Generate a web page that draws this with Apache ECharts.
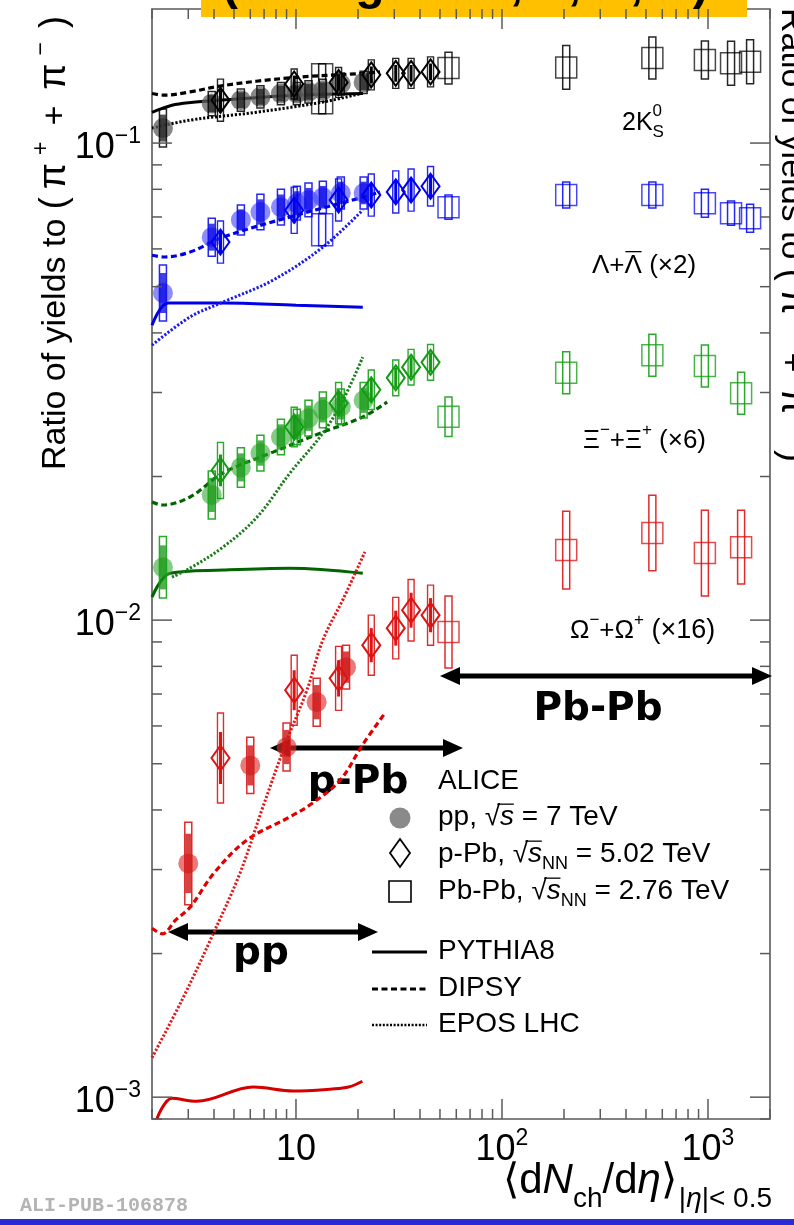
<!DOCTYPE html>
<html>
<head>
<meta charset="utf-8">
<script src="https://cdn.jsdelivr.net/npm/echarts/dist/echarts.min.js"></script>
<style>
  html, body { margin: 0; padding: 0; background: #fff; }
  #chart { width: 794px; height: 1225px; }
</style>
</head>
<body>
<div id="chart"></div>
<script>
// ---------------- data ----------------
// <dNch/deta> of the multiplicity / centrality classes
const ppMult      = [2.26, 3.90, 5.40, 6.72, 8.45, 10.1, 11.5, 13.5, 16.5, 21.3];
const ppMultOmega = [3.0, 6.0, 9.0, 12.6, 17.5];
const pPbMult     = [4.3, 9.8, 16.1, 23.2, 30.5, 36.2, 45.0];
const PbPbMult    = [13.4, 55, 205, 537, 966, 1294, 1601];
const PbPbMultMS  = [55, 205, 537, 966, 1448];

// 2K0S / (pi+ + pi-)
const k0sPP        = [0.1075, 0.121, 0.123, 0.125, 0.127, 0.127, 0.128, 0.129, 0.133, 0.134];
const k0sPPSys     = [0.096, 0.06, 0.055, 0.055, 0.055, 0.055, 0.055, 0.055, 0.055, 0.055];
const k0sPPb       = [0.123, 0.133, 0.134, 0.139, 0.140, 0.140, 0.141];
const k0sPPbSys    = [0.107, 0.075, 0.075, 0.075, 0.075, 0.075, 0.075];
const k0sPbPb      = [0.130, 0.1436, 0.1441, 0.1508, 0.1493, 0.147, 0.148];
const k0sPbPbSys   = [0.128, 0.08, 0.112, 0.107, 0.096, 0.112, 0.112];
const k0sPbPbBox   = [0.128, 0, 0, 0, 0, 0, 0];

// (Lambda + anti-Lambda) / (pi+ + pi-), x2
const lamPP        = [0.0485, 0.0635, 0.0690, 0.0717, 0.0734, 0.0748, 0.0760, 0.0770, 0.0786, 0.0786];
const lamPPSys     = [0.145, 0.096, 0.075, 0.09, 0.09, 0.085, 0.085, 0.08, 0.08, 0.08];
const lamPPb       = [0.0620, 0.0723, 0.0760, 0.0778, 0.0790, 0.0797, 0.0812];
const lamPPbSys    = [0.107, 0.118, 0.107, 0.107, 0.107, 0.107, 0.10];
const lamPbPb      = [0.0658, 0.0734, 0.0778, 0.0778, 0.0748, 0.0713, 0.0696];
const lamPbPbSys   = [0.08, 0.06, 0.065, 0.065, 0.07, 0.06, 0.07];
const lamPbPbBox   = [0.08, 0, 0, 0, 0, 0, 0];

// (Xi- + Xi+) / (pi+ + pi-), x6
const xiPP         = [0.0129, 0.0183, 0.0209, 0.0224, 0.0242, 0.0254, 0.0265, 0.0276, 0.0280, 0.0289];
const xiPPSys      = [0.16, 0.123, 0.10, 0.09, 0.09, 0.09, 0.09, 0.09, 0.09, 0.09];
const xiPPb        = [0.0206, 0.0254, 0.0285, 0.0304, 0.0322, 0.0339, 0.0347];
const xiPPbSys     = [0.145, 0.10, 0.105, 0.10, 0.09, 0.09, 0.09];
const xiPbPb       = [0.0267, 0.0330, 0.0359, 0.0341, 0.0299];
const xiPbPbSys    = [0.10, 0.107, 0.107, 0.107, 0.107];
const xiPbPbBox    = [0, 0, 0, 0, 0];

// (Omega- + Omega+) / (pi+ + pi-), x16
const omPP         = [0.00309, 0.00496, 0.00542, 0.00673, 0.00797];
const omPPSys      = [0.22, 0.145, 0.123, 0.123, 0.112];
const omPPb        = [0.00514, 0.00713, 0.00755, 0.00886, 0.00962, 0.01049, 0.01024];
const omPPbSys     = [0.243, 0.184, 0.167, 0.156, 0.16, 0.16, 0.156];
const omPbPb       = [0.00944, 0.01402, 0.01522, 0.01382, 0.01422];
const omPbPbSys    = [0.19, 0.207, 0.20, 0.23, 0.195];
const omPbPbBox    = [0, 0, 0, 0, 0];

// model curves for pp, [dNch/deta, ratio]
const k0sPythia = [[2.0, 0.116], [2.5, 0.120], [3.0, 0.1215], [5.0, 0.1236], [10, 0.126], [21.1, 0.127]];
const k0sDipsy  = [[2.0, 0.127], [2.3, 0.126], [3.06, 0.128], [4.42, 0.132], [9.35, 0.137], [21.1, 0.140], [25.6, 0.141]];
const k0sEpos   = [[2.0, 0.1075], [3.06, 0.1117], [6.47, 0.1161], [13.5, 0.1219], [21.1, 0.1273]];

const lamPythia = [[2.0, 0.0415], [2.4, 0.0462], [4.4, 0.0462], [10, 0.0457], [21.1, 0.0453]];
const lamDipsy  = [[2.0, 0.0582], [2.3, 0.0577], [3.06, 0.0591], [4.42, 0.0635], [9.35, 0.0700], [21.1, 0.0770], [25.6, 0.0790]];
const lamEpos   = [[2.0, 0.0377], [3.06, 0.0432], [4.42, 0.0464], [7.73, 0.0516], [13.5, 0.0605], [21.1, 0.0724]];

const xiPythia  = [[2.0, 0.01117], [2.45, 0.01254], [4.42, 0.01273], [9.35, 0.01285], [21.1, 0.01254]];
const xiDipsy   = [[2.0, 0.01768], [2.25, 0.01743], [3.06, 0.01812], [4.42, 0.02034], [7.73, 0.0225], [13.5, 0.02477], [21.1, 0.02666], [27.7, 0.02864]];
const xiEpos    = [[2.5, 0.01231], [3.06, 0.01285], [4.42, 0.01422], [6.47, 0.01644], [9.35, 0.02034], [13.5, 0.02465], [16.9, 0.02891], [21.1, 0.03558]];

const omPythia  = [[2.11, 0.0009], [2.5, 0.000995], [3.3, 0.00098], [6.2, 0.00105], [9.7, 0.00103], [15, 0.00104], [18, 0.00105], [21, 0.00108]];
const omDipsy   = [[2.0, 0.00226], [2.25, 0.00220], [2.6, 0.00235], [3.06, 0.0025], [4.0, 0.00295], [5.78, 0.00346], [9.35, 0.00387], [12, 0.00413], [16.4, 0.00462], [21, 0.00547], [27, 0.00638]];
const omEpos    = [[2.0, 0.00121], [2.8, 0.0016], [3.83, 0.00213], [5.35, 0.00295], [6.91, 0.00406], [9.04, 0.0056], [11.3, 0.00713], [13.5, 0.00908], [17, 0.0111], [21.6, 0.0139]];

// axis labels
const xMajorTicks = [10, 100, 1000];
const xTickLabels = [['10', ''], ['10', '2'], ['10', '3']];
const yMajorTicks = [0.1, 0.01, 0.001];
const yTickLabels = [['10', '\u22121'], ['10', '\u22122'], ['10', '\u22123']];

// ---------------- style ----------------
const FONT = '"Liberation Sans", Arial, Helvetica, sans-serif';
const BOLD = '"DejaVu Sans", "Liberation Sans", sans-serif';
const MONO = '"Liberation Mono", "DejaVu Sans Mono", monospace';
const AXIS = '#5a5a5a';

const species = [
  { ppX: ppMult, pp: k0sPP, ppSys: k0sPPSys, pPb: k0sPPb, pPbSys: k0sPPbSys,
    PbPbX: PbPbMult, PbPb: k0sPbPb, PbPbSys: k0sPbPbSys, PbPbBox: k0sPbPbBox,
    models: [k0sPythia, k0sDipsy, k0sEpos],
    line: '#000000', modelCols: ['#000000', '#000000', '#000000'],
    disk: 'rgba(95,95,95,0.75)', bar: 'rgba(40,40,40,0.8)', box: 'rgba(0,0,0,0.85)' },
  { ppX: ppMult, pp: lamPP, ppSys: lamPPSys, pPb: lamPPb, pPbSys: lamPPbSys,
    PbPbX: PbPbMult, PbPb: lamPbPb, PbPbSys: lamPbPbSys, PbPbBox: lamPbPbBox,
    models: [lamPythia, lamDipsy, lamEpos],
    line: '#0000f0', modelCols: ['#0000e6', '#0000e6', '#1a1af0'],
    disk: 'rgba(70,70,255,0.62)', bar: 'rgba(0,0,225,0.75)', box: 'rgba(0,0,240,0.85)' },
  { ppX: ppMult, pp: xiPP, ppSys: xiPPSys, pPb: xiPPb, pPbSys: xiPPbSys,
    PbPbX: PbPbMultMS, PbPb: xiPbPb, PbPbSys: xiPbPbSys, PbPbBox: xiPbPbBox,
    models: [xiPythia, xiDipsy, xiEpos],
    line: '#149a14', modelCols: ['#006400', '#006400', '#1d7d1d'],
    disk: 'rgba(50,170,50,0.6)', bar: 'rgba(20,150,20,0.75)', box: 'rgba(20,160,20,0.9)' },
  { ppX: ppMultOmega, pp: omPP, ppSys: omPPSys, pPb: omPPb, pPbSys: omPPbSys,
    PbPbX: PbPbMultMS, PbPb: omPbPb, PbPbSys: omPbPbSys, PbPbBox: omPbPbBox,
    models: [omPythia, omDipsy, omEpos],
    line: '#dc1414', modelCols: ['#d40000', '#e00000', '#e01a1a'],
    disk: 'rgba(220,50,50,0.65)', bar: 'rgba(205,20,20,0.8)', box: 'rgba(220,20,20,0.9)' }
];

// ---------------- text helpers ----------------
const mctx = document.createElement('canvas').getContext('2d');
function fontStr(p) {
  return (p.it ? 'italic ' : '') + (p.b ? 'bold ' : '') + p.s + 'px ' + (p.f || FONT);
}
// lays out text pieces along a common baseline; pieces with "stack" share the x of the previous piece
function textRun(x0, base, parts, opt) {
  opt = opt || {};
  let cur = 0, lastStart = 0, lastW = 0;
  const placed = parts.map(p => {
    mctx.font = fontStr(p);
    const w = mctx.measureText(p.t).width;
    let start;
    if (p.stack) { start = lastStart; cur = lastStart + Math.max(w, lastW); }
    else { start = cur + (p.gap || 0); cur = start + w; }
    lastStart = start; lastW = w;
    return { p, start, w };
  });
  const total = cur;
  const off = opt.align === 'right' ? -total : opt.align === 'center' ? -total / 2 : 0;
  const els = [];
  placed.forEach(({ p, start, w }) => {
    const bx = x0 + off + start;
    const by = base + (p.dy || 0);
    const col = p.c || opt.color || '#000';
    els.push({
      type: 'text', x: bx, y: by - 0.31 * p.s, silent: true,
      style: { text: p.t, fontSize: p.s, fontFamily: p.f || FONT,
               fontStyle: p.it ? 'italic' : 'normal', fontWeight: p.b ? 'bold' : 'normal',
               fill: col, align: 'left', verticalAlign: 'middle' }
    });
    if (p.over) {
      const oy = by - p.s * (p.overH || 0.8);
      els.push({ type: 'line', silent: true,
        shape: { x1: bx + w * (p.overX0 || 0.05), y1: oy, x2: bx + w * 0.98, y2: oy },
        style: { stroke: col, lineWidth: p.overW || 1.3 } });
    }
  });
  return els;
}

// ---------------- series renderers ----------------
function ppRender(sp) {
  return function (params, api) {
    const x = api.value(0), v = api.value(1), e = api.value(2);
    const c = api.coord([x, v]);
    const t = api.coord([x, v * (1 + e)])[1], b = api.coord([x, v / (1 + e)])[1];
    const tf = api.coord([x, v * (1 + 0.7 * e)])[1], bf = api.coord([x, v / (1 + 0.7 * e)])[1];
    return { type: 'group', children: [
      { type: 'circle', shape: { cx: c[0], cy: c[1], r: 10 }, style: { fill: sp.disk } },
      { type: 'rect', shape: { x: c[0] - 3, y: tf, width: 6, height: bf - tf }, style: { fill: sp.bar } },
      { type: 'rect', shape: { x: c[0] - 3.5, y: t, width: 7, height: b - t },
        style: { fill: 'none', stroke: sp.box, lineWidth: 1.5 } }
    ] };
  };
}
function pPbRender(sp) {
  return function (params, api) {
    const x = api.value(0), v = api.value(1), e = api.value(2);
    const c = api.coord([x, v]);
    const t = api.coord([x, v * (1 + e)])[1], b = api.coord([x, v / (1 + e)])[1];
    const ts = api.coord([x, v * (1 + 0.55 * e)])[1], bs = api.coord([x, v / (1 + 0.55 * e)])[1];
    return { type: 'group', children: [
      { type: 'rect', shape: { x: c[0] - 3, y: t, width: 6, height: b - t },
        style: { fill: 'none', stroke: sp.box, lineWidth: 1.4 } },
      { type: 'line', shape: { x1: c[0], y1: ts, x2: c[0], y2: bs }, style: { stroke: sp.line, lineWidth: 3 } },
      { type: 'polygon', shape: { points: [[c[0], c[1] - 12.5], [c[0] + 9, c[1]], [c[0], c[1] + 12.5], [c[0] - 9, c[1]]] },
        style: { fill: 'none', stroke: sp.line, lineWidth: 2 } }
    ] };
  };
}
function PbPbRender(sp) {
  return function (params, api) {
    const x = api.value(0), v = api.value(1), e = api.value(2), w = api.value(3);
    const c = api.coord([x, v]);
    const t = api.coord([x, v * (1 + e)])[1], b = api.coord([x, v / (1 + e)])[1];
    let wt = c[1] - 10.5, wb = c[1] + 10.5;
    if (w > 0) { wt = api.coord([x, v * (1 + w)])[1]; wb = api.coord([x, v / (1 + w)])[1]; }
    return { type: 'group', children: [
      { type: 'rect', shape: { x: c[0] - 10.5, y: wt, width: 21, height: wb - wt },
        style: { fill: 'none', stroke: sp.box, lineWidth: 1.5, opacity: 0.85 } },
      { type: 'rect', shape: { x: c[0] - 3.5, y: t, width: 7, height: b - t },
        style: { fill: 'none', stroke: sp.box, lineWidth: 1.5 } }
    ] };
  };
}

const modelDash = ['solid', [6, 3.5], [2.2, 1.8]];
const modelWidth = [3, 3.2, 3];

const series = [];
species.forEach((sp, k) => {
  sp.models.forEach((m, j) => {
    series.push({
      type: 'line', data: m, smooth: 0.35, showSymbol: false, symbol: 'none', silent: true, z: 2,
      lineStyle: { color: sp.modelCols[j], width: modelWidth[j], type: modelDash[j] }
    });
  });
  series.push({
    type: 'custom', z: 3, silent: true, renderItem: PbPbRender(sp),
    data: sp.PbPbX.map((x, i) => [x, sp.PbPb[i], sp.PbPbSys[i], sp.PbPbBox[i]])
  });
  series.push({
    type: 'custom', z: 4, silent: true, renderItem: ppRender(sp),
    data: sp.ppX.map((x, i) => [x, sp.pp[i], sp.ppSys[i]])
  });
  series.push({
    type: 'custom', z: 5, silent: true, renderItem: pPbRender(sp),
    data: pPbMult.map((x, i) => [x, sp.pPb[i], sp.pPbSys[i]])
  });
});

// axis ticks on all four sides (decade steps with 2..9 subdivisions)
const xTicks = [], yTicks = [];
[1, 10, 100, 1000].forEach(d => { for (let m = 1; m <= 9; m++) { const v = m * d; if (v >= 2 && v <= 2000) xTicks.push(v); } });
[0.0001, 0.001, 0.01, 0.1].forEach(d => { for (let m = 1; m <= 9; m++) { const v = +(m * d).toPrecision(3); if (v >= 0.0009 && v <= 0.191) yTicks.push(v); } });
const isMajor = v => Math.abs(Math.log10(v) - Math.round(Math.log10(v))) < 1e-6;

series.push({
  type: 'custom', z: 6, silent: true, data: xTicks.map(v => [v, 0.01]),
  renderItem(params, api) {
    const cs = params.coordSys, v = api.value(0), px = api.coord([v, 0.01])[0];
    const len = isMajor(v) ? 20 : 10, yb = cs.y + cs.height;
    return { type: 'group', children: [
      { type: 'line', shape: { x1: px, y1: yb, x2: px, y2: yb - len }, style: { stroke: AXIS, lineWidth: 1.5 } },
      { type: 'line', shape: { x1: px, y1: cs.y, x2: px, y2: cs.y + len }, style: { stroke: AXIS, lineWidth: 1.5 } }
    ] };
  }
});
series.push({
  type: 'custom', z: 6, silent: true, data: yTicks.map(v => [10, v]),
  renderItem(params, api) {
    const cs = params.coordSys, v = api.value(1), py = api.coord([10, v])[1];
    const len = isMajor(v) ? 20 : 10, xr = cs.x + cs.width;
    return { type: 'group', children: [
      { type: 'line', shape: { x1: cs.x, y1: py, x2: cs.x + len, y2: py }, style: { stroke: AXIS, lineWidth: 1.5 } },
      { type: 'line', shape: { x1: xr, y1: py, x2: xr - len, y2: py }, style: { stroke: AXIS, lineWidth: 1.5 } }
    ] };
  }
});

const chart = echarts.init(document.getElementById('chart'), null, { renderer: 'canvas' });
chart.setOption({
  animation: false,
  backgroundColor: '#ffffff',
  grid: { left: 152, top: 9, width: 618, height: 1110, show: true, borderColor: AXIS, borderWidth: 1.6, backgroundColor: 'transparent' },
  xAxis: { type: 'log', logBase: 10, min: 2, max: 2000,
           axisLine: { show: false }, axisTick: { show: false }, axisLabel: { show: false }, splitLine: { show: false } },
  yAxis: { type: 'log', logBase: 10, min: 0.0009, max: 0.191,
           axisLine: { show: false }, axisTick: { show: false }, axisLabel: { show: false }, splitLine: { show: false } },
  series: series
});

// ---------------- annotations ----------------
const g = [];
const S = 36, SUP = 23;

// tick labels
xMajorTicks.forEach((v, i) => {
  const px = chart.convertToPixel({ xAxisIndex: 0 }, v);
  const lab = xTickLabels[i];
  const parts = [{ t: lab[0], s: S }];
  if (lab[1]) parts.push({ t: lab[1], s: SUP, dy: -15 });
  g.push(...textRun(px, 1161, parts, { align: 'center', color: '#000' }));
});
yMajorTicks.forEach((v, i) => {
  const py = chart.convertToPixel({ yAxisIndex: 0 }, v);
  const lab = yTickLabels[i];
  g.push(...textRun(141, py + 16, [{ t: lab[0], s: S }, { t: lab[1], s: SUP, dy: -15 }], { align: 'right' }));
});

// axis titles
g.push(...textRun(772, 1194, [
  { t: '\u27E8', s: 42 }, { t: 'd', s: 42 }, { t: 'N', s: 42, it: 1 }, { t: 'ch', s: 28, dy: 14 },
  { t: '/d', s: 42 }, { t: '\u03B7', s: 42, it: 1 }, { t: '\u27E9', s: 42 },
  { t: '|', s: 28, dy: 14, gap: 2 }, { t: '\u03B7', s: 28, it: 1, dy: 14 }, { t: '|< 0.5', s: 28, dy: 14 }
], { align: 'right' }));

const yTitleParts = [
  { t: 'Ratio of yields to ', s: 34 }, { t: '(', s: 36 }, { t: '\u03C0', s: 38, gap: 8 }, { t: '+', s: 23, dy: -17, gap: 8 },
  { t: '+', s: 34, gap: 16 }, { t: '\u03C0', s: 38, gap: 16 }, { t: '\u2212', s: 23, dy: -17, gap: 8 }, { t: ')', s: 36, gap: 14 }
];
g.push({ type: 'group', x: 66, y: 470, rotation: Math.PI / 2, silent: true, children: textRun(0, 0, yTitleParts) });

// species labels
g.push(...textRun(622, 131, [{ t: '2K', s: 25 }, { t: '0', s: 17, dy: -14 }, { t: 'S', s: 17, dy: 7, stack: true }]));
g.push(...textRun(592, 274, [{ t: '\u039B+', s: 26 }, { t: '\u039B', s: 26, over: true, overH: 0.86 }, { t: ' (\u00D72)', s: 26 }]));
g.push(...textRun(583, 449, [{ t: '\u039E', s: 26 }, { t: '\u2212', s: 17, dy: -13 }, { t: '+\u039E', s: 26 },
  { t: '+', s: 17, dy: -13 }, { t: ' (\u00D76)', s: 26 }]));
g.push(...textRun(570, 639, [{ t: '\u03A9', s: 26 }, { t: '\u2212', s: 17, dy: -13 }, { t: '+\u03A9', s: 26 },
  { t: '+', s: 17, dy: -13 }, { t: ' (\u00D716)', s: 27 }]));

// collision-system ranges
function arrow(x1, x2, y) {
  const L = 20, H = 9;
  return [
    { type: 'line', silent: true, shape: { x1: x1 + L - 2, y1: y, x2: x2 - L + 2, y2: y }, style: { stroke: '#000', lineWidth: 5 } },
    { type: 'polygon', silent: true, shape: { points: [[x1, y], [x1 + L, y - H], [x1 + L, y + H]] }, style: { fill: '#000' } },
    { type: 'polygon', silent: true, shape: { points: [[x2, y], [x2 - L, y - H], [x2 - L, y + H]] }, style: { fill: '#000' } }
  ];
}
g.push(...arrow(440, 772, 676), ...arrow(270, 463, 748), ...arrow(168, 378, 932));
g.push(...textRun(598, 722, [{ t: 'Pb-Pb', s: 39, b: 1, f: BOLD }], { align: 'center' }));
g.push(...textRun(358, 795, [{ t: 'p-Pb', s: 39, b: 1, f: BOLD }], { align: 'center' }));
g.push(...textRun(261, 966, [{ t: 'pp', s: 39, b: 1, f: BOLD }], { align: 'center' }));

// legend
const LX = 438, LS = 28;
g.push(...textRun(LX, 790, [{ t: 'ALICE', s: LS }]));
g.push({ type: 'circle', silent: true, shape: { cx: 400, cy: 818, r: 10.5 }, style: { fill: '#8a8a8a' } });
g.push(...textRun(LX, 826, [{ t: 'pp, ', s: LS }, { t: '\u221A', s: LS }, { t: 's', s: LS, it: 1, over: true, overH: 0.78, overX0: -0.2 },
  { t: ' = 7 TeV', s: LS }]));
g.push({ type: 'polygon', silent: true, shape: { points: [[400, 839], [410, 853], [400, 867], [390, 853]] },
  style: { fill: 'none', stroke: '#000', lineWidth: 1.8 } });
g.push(...textRun(LX, 863, [{ t: 'p-Pb, ', s: LS }, { t: '\u221A', s: LS }, { t: 's', s: LS, it: 1, over: true, overH: 0.78, overX0: -0.2 },
  { t: 'NN', s: 18, dy: 7 }, { t: ' = 5.02 TeV', s: LS }]));
g.push({ type: 'rect', silent: true, shape: { x: 389, y: 881, width: 22, height: 21 }, style: { fill: 'none', stroke: '#000', lineWidth: 1.6 } });
g.push(...textRun(LX, 900, [{ t: 'Pb-Pb, ', s: LS }, { t: '\u221A', s: LS }, { t: 's', s: LS, it: 1, over: true, overH: 0.78, overX0: -0.2 },
  { t: 'NN', s: 18, dy: 7 }, { t: ' = 2.76 TeV', s: LS }]));
[['PYTHIA8', 952, 0], ['DIPSY', 989, 1], ['EPOS LHC', 1025, 2]].forEach(([name, y, j]) => {
  g.push({ type: 'line', silent: true, shape: { x1: 372, y1: y, x2: 427, y2: y },
    style: { stroke: '#000', lineWidth: j === 2 ? 2.5 : 3, lineDash: j === 0 ? null : (j === 1 ? [6, 3.5] : [2, 1.6]) } });
  g.push(...textRun(LX, y + 8, [{ t: name, s: LS }]));
});

// header banner (text runs past the top edge of the page)
g.push({ type: 'rect', silent: true, shape: { x: 201, y: 0, width: 546, height: 17 }, style: { fill: '#FFC000' } });
g.push(...textRun(222, 1, [{ t: '(strangeness', s: 48, b: 1 }]));
g.push(...textRun(483, 1, [{ t: '1,', s: 48, b: 1 }]));
g.push(...textRun(541, 1, [{ t: '1,', s: 48, b: 1 }]));
g.push(...textRun(603, 1, [{ t: '2,', s: 48, b: 1 }]));
g.push(...textRun(666, 1, [{ t: '3)', s: 48, b: 1 }]));

// right-hand neighbouring panel title (clipped by the page edge)
g.push({ type: 'group', x: 781, y: 8, rotation: -Math.PI / 2, silent: true, children: textRun(0, 0, yTitleParts) });

// footer
g.push(...textRun(20, 1212, [{ t: 'ALI-PUB-106878', s: 20, b: 1, f: MONO, c: '#b4b4b4' }]));
g.push({ type: 'rect', silent: true, shape: { x: 0, y: 1219, width: 794, height: 6 }, style: { fill: '#2b2bd9' } });

chart.setOption({ graphic: { elements: g } });
</script>
</body>
</html>
